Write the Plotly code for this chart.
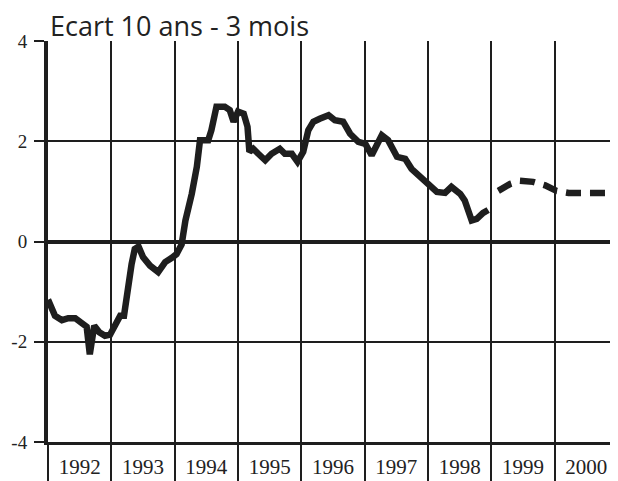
import plotly.graph_objects as go

# Ecart de taux 10 ans - 3 mois (observé puis prévision)
obs_x = [1992.00, 1992.11, 1992.22, 1992.32, 1992.43, 1992.56, 1992.61, 1992.66,
         1992.73, 1992.81, 1992.90, 1992.98, 1993.07, 1993.14, 1993.20, 1993.25,
         1993.32, 1993.37, 1993.43, 1993.50, 1993.61, 1993.74, 1993.85, 1993.95,
         1994.03, 1994.11, 1994.17, 1994.27, 1994.35, 1994.40, 1994.53, 1994.58,
         1994.66, 1994.79, 1994.87, 1994.93, 1995.00, 1995.09, 1995.15, 1995.18,
         1995.24, 1995.32, 1995.43, 1995.53, 1995.66, 1995.74, 1995.85, 1995.94,
         1996.03, 1996.11, 1996.19, 1996.29, 1996.43, 1996.53, 1996.66, 1996.77,
         1996.90, 1997.01, 1997.11, 1997.27, 1997.37, 1997.51, 1997.64, 1997.74,
         1997.85, 1998.00, 1998.14, 1998.27, 1998.37, 1998.51, 1998.58, 1998.69,
         1998.77, 1998.87, 1998.95]
obs_y = [-1.16, -1.48, -1.57, -1.53, -1.53, -1.63, -1.70, -2.25,
         -1.68, -1.81, -1.88, -1.86, -1.65, -1.48, -1.48, -0.98,
         -0.45, -0.15, -0.10, -0.31, -0.48, -0.61, -0.41, -0.33,
         -0.25, -0.06, 0.42, 0.95, 1.49, 2.02, 2.02, 2.22,
         2.69, 2.69, 2.62, 2.39, 2.59, 2.55, 2.29, 1.79,
         1.85, 1.75, 1.62, 1.75, 1.85, 1.75, 1.75, 1.59,
         1.79, 2.22, 2.39, 2.45, 2.52, 2.42, 2.39, 2.15,
         1.99, 1.95, 1.72, 2.12, 2.02, 1.69, 1.65, 1.45,
         1.32, 1.12, 0.99, 0.97, 1.09, 0.95, 0.82, 0.42,
         0.45, 0.57, 0.63]

prev_x = [1999.11, 1999.30, 1999.45, 1999.66, 1999.85, 2000.03, 2000.22, 2000.90]
prev_y = [1.01, 1.15, 1.21, 1.19, 1.12, 1.01, 0.97, 0.97]

years = [1992, 1993, 1994, 1995, 1996, 1997, 1998, 1999, 2000]
y_ticks = [-4, -2, 0, 2, 4]
y_labels = ["-4", "-2", "0", "2", "4"]

ink = "#1e1e1e"
fig = go.Figure()
fig.add_trace(go.Scatter(x=obs_x, y=obs_y, mode="lines",
                         line=dict(color=ink, width=6.5)))
fig.add_trace(go.Scatter(x=prev_x, y=prev_y, mode="lines",
                         line=dict(color=ink, width=6.5, dash="15px,9px")))

# la page ajoute une marge de 8px autour de la figure
x_font = dict(family="Liberation Serif", size=21, color="#222")
y_font = dict(family="Liberation Serif", size=19, color="#222")
fig.update_layout(
    width=610, height=473,
    margin=dict(l=40, r=0, t=33, b=39),
    paper_bgcolor="white", plot_bgcolor="white",
    showlegend=False,
    xaxis=dict(
        range=[1992, 2001], automargin=False,
        tickvals=[y + 0.5 for y in years],
        ticktext=[str(y) for y in years],
        ticks="", showgrid=False, zeroline=False,
        showline=True, linecolor=ink, linewidth=3,
        tickfont=x_font, ticklabelstandoff=4,
        minor=dict(tickvals=years + [2001], showgrid=True, gridcolor=ink,
                   gridwidth=2, ticks="outside", ticklen=40, tickwidth=2,
                   tickcolor=ink),
    ),
    yaxis=dict(
        range=[-4, 4], automargin=False,
        tickvals=y_ticks, ticktext=y_labels,
        ticks="outside", ticklen=10, tickwidth=2, tickcolor=ink,
        showgrid=True, gridcolor=ink, gridwidth=2,
        zeroline=True, zerolinecolor=ink, zerolinewidth=3.5,
        showline=True, linecolor=ink, linewidth=4,
        tickfont=y_font, ticklabelstandoff=3,
    ),
    annotations=[dict(
        text="Ecart 10 ans - 3 mois", xref="paper", yref="paper",
        x=0, y=1, xanchor="left", yanchor="bottom", yshift=-5,
        showarrow=False, font=dict(family="Open Sans", size=27, color="#222"),
    )],
)

fig.write_html("out.html")
